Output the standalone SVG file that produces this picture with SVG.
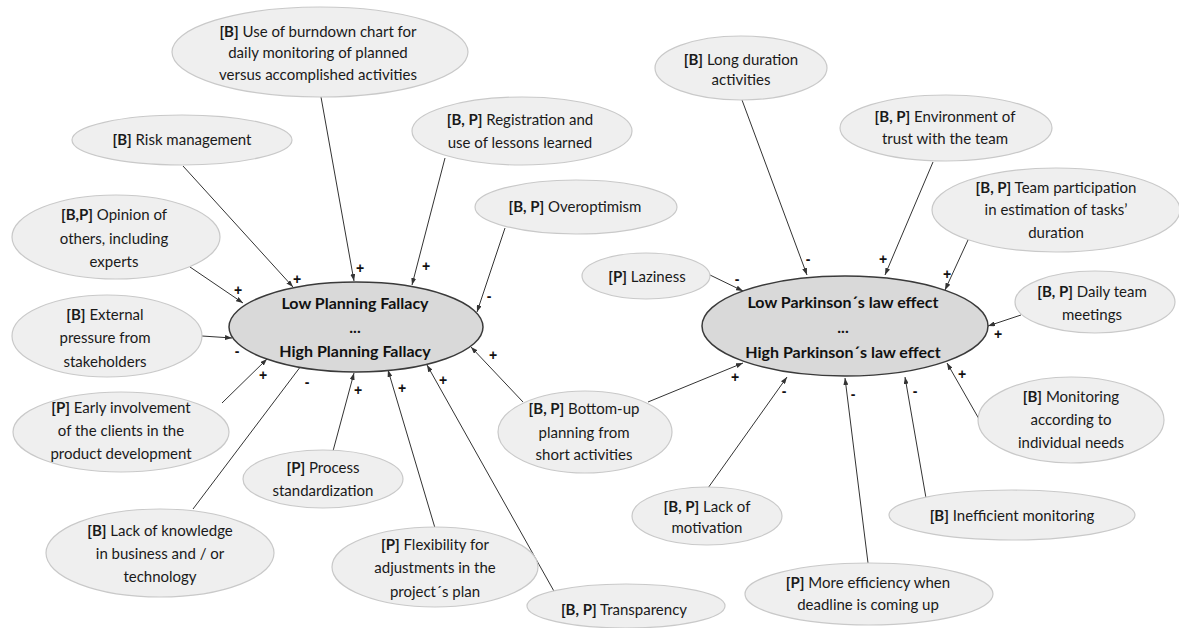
<svg xmlns="http://www.w3.org/2000/svg" width="1179" height="628" viewBox="0 0 1179 628">
  <defs>
    <marker id="arrow" viewBox="0 0 7 5" refX="7" refY="2.5" markerWidth="7" markerHeight="5" markerUnits="userSpaceOnUse" orient="auto">
      <path d="M0,0 L7,2.5 L0,5 z" fill="#333"/>
    </marker>
  </defs>
  <style>
    .sat { fill: #efefef; stroke: #c9c9c9; stroke-width: 1.2; }
    .core { fill: #d9d9d9; stroke: #3a3a3a; stroke-width: 1.5; }
    .t { font-family: Lato, "Liberation Sans", sans-serif; font-size: 15px; fill: #1a1a1a; text-anchor: middle; }
    .t tspan.b { font-weight: bold; }
    .ct { font-family: Lato, "Liberation Sans", sans-serif; font-size: 16px; font-weight: bold; fill: #111; text-anchor: middle; }
    .link { stroke: #333; stroke-width: 1; fill: none; marker-end: url(#arrow); }
    .sign { font-family: "Liberation Sans", sans-serif; font-size: 14px; font-weight: bold; fill: #111; text-anchor: middle; }
  </style>
  <rect width="1179" height="628" fill="#ffffff"/>

  <!-- influence links -->
  <g id="connectors">
    <line class="link" x1="321" y1="97" x2="354" y2="281"/>
    <line class="link" x1="183" y1="166" x2="293" y2="287"/>
    <line class="link" x1="190" y1="267" x2="243" y2="303"/>
    <line class="link" x1="202" y1="336" x2="232" y2="338"/>
    <line class="link" x1="222" y1="403" x2="267" y2="359"/>
    <line class="link" x1="193" y1="509" x2="307" y2="358"/>
    <line class="link" x1="333" y1="451" x2="354" y2="373"/>
    <line class="link" x1="435" y1="528" x2="388" y2="370"/>
    <line class="link" x1="555" y1="593" x2="427" y2="365"/>
    <line class="link" x1="523" y1="402" x2="471" y2="347"/>
    <line class="link" x1="505" y1="228" x2="477" y2="312"/>
    <line class="link" x1="445" y1="158" x2="412" y2="285"/>
    <line class="link" x1="710" y1="275" x2="743" y2="291"/>
    <line class="link" x1="648" y1="402" x2="743" y2="363"/>
    <line class="link" x1="742" y1="100" x2="807" y2="275"/>
    <line class="link" x1="933" y1="162" x2="885" y2="275"/>
    <line class="link" x1="968" y1="240" x2="945" y2="290"/>
    <line class="link" x1="1021" y1="315" x2="988" y2="326"/>
    <line class="link" x1="979" y1="419" x2="947" y2="363"/>
    <line class="link" x1="926" y1="498" x2="905" y2="377"/>
    <line class="link" x1="868" y1="563" x2="845" y2="378"/>
    <line class="link" x1="708" y1="488" x2="787" y2="377"/>

    <!-- polarity signs -->
    <text class="sign" x="360" y="273">+</text>
    <text class="sign" x="297" y="284">+</text>
    <text class="sign" x="238" y="295">+</text>
    <text class="sign" x="237" y="356">-</text>
    <text class="sign" x="263" y="380">+</text>
    <text class="sign" x="307" y="387">-</text>
    <text class="sign" x="358" y="395">+</text>
    <text class="sign" x="402" y="393">+</text>
    <text class="sign" x="443" y="385">+</text>
    <text class="sign" x="493" y="360">+</text>
    <text class="sign" x="489" y="301">-</text>
    <text class="sign" x="426" y="271">+</text>
    <text class="sign" x="737" y="284">-</text>
    <text class="sign" x="735" y="382">+</text>
    <text class="sign" x="808" y="264">-</text>
    <text class="sign" x="883" y="264">+</text>
    <text class="sign" x="947" y="279">+</text>
    <text class="sign" x="998" y="339">+</text>
    <text class="sign" x="962" y="379">+</text>
    <text class="sign" x="915" y="396">-</text>
    <text class="sign" x="853" y="399">-</text>
    <text class="sign" x="784" y="396">-</text>
  </g>

  <!-- central constructs -->
  <g id="planning-fallacy">
    <ellipse class="core" cx="356" cy="327" rx="127" ry="45"/>
    <text class="ct" x="355" y="309">Low Planning Fallacy</text>
    <text class="ct" x="355" y="333">...</text>
    <text class="ct" x="355" y="357">High Planning Fallacy</text>
  </g>
  <g id="parkinson-law">
    <ellipse class="core" cx="845" cy="326" rx="143" ry="50"/>
    <text class="ct" x="843" y="308">Low Parkinson´s law effect</text>
    <text class="ct" x="843" y="333">...</text>
    <text class="ct" x="843" y="358">High Parkinson´s law effect</text>
  </g>

  <!-- factors: planning fallacy -->
  <g id="burndown-chart">
    <ellipse class="sat" cx="320" cy="52" rx="148" ry="45"/>
    <text class="t" x="318" y="37"><tspan class="b">[B]</tspan> Use of burndown chart for</text>
    <text class="t" x="318" y="58">daily monitoring of planned</text>
    <text class="t" x="318" y="80">versus accomplished activities</text>
  </g>
  <g id="risk-management">
    <ellipse class="sat" cx="182" cy="140" rx="110" ry="25"/>
    <text class="t" x="182" y="145"><tspan class="b">[B]</tspan> Risk management</text>
  </g>
  <g id="lessons-learned">
    <ellipse class="sat" cx="522" cy="131" rx="110" ry="34"/>
    <text class="t" x="520" y="125"><tspan class="b">[B, P]</tspan> Registration and</text>
    <text class="t" x="520" y="148">use of lessons learned</text>
  </g>
  <g id="overoptimism">
    <ellipse class="sat" cx="576" cy="207" rx="101" ry="27"/>
    <text class="t" x="575" y="212"><tspan class="b">[B, P]</tspan> Overoptimism</text>
  </g>
  <g id="opinion-of-others">
    <ellipse class="sat" cx="116" cy="237" rx="104" ry="42"/>
    <text class="t" x="114" y="220"><tspan class="b">[B,P]</tspan> Opinion of</text>
    <text class="t" x="114" y="244">others, including</text>
    <text class="t" x="114" y="267">experts</text>
  </g>
  <g id="external-pressure">
    <ellipse class="sat" cx="107" cy="336" rx="95" ry="41"/>
    <text class="t" x="105" y="320"><tspan class="b">[B]</tspan> External</text>
    <text class="t" x="105" y="343">pressure from</text>
    <text class="t" x="105" y="367">stakeholders</text>
  </g>
  <g id="client-involvement">
    <ellipse class="sat" cx="121" cy="432" rx="108" ry="40"/>
    <text class="t" x="121" y="413"><tspan class="b">[P]</tspan> Early involvement</text>
    <text class="t" x="121" y="436">of the clients in the</text>
    <text class="t" x="121" y="459">product development</text>
  </g>
  <g id="process-standardization">
    <ellipse class="sat" cx="323" cy="479" rx="80" ry="29"/>
    <text class="t" x="323" y="473"><tspan class="b">[P]</tspan> Process</text>
    <text class="t" x="323" y="496">standardization</text>
  </g>
  <g id="lack-of-knowledge">
    <ellipse class="sat" cx="160" cy="553" rx="114" ry="44"/>
    <text class="t" x="160" y="536"><tspan class="b">[B]</tspan> Lack of knowledge</text>
    <text class="t" x="160" y="559">in business and / or</text>
    <text class="t" x="160" y="582">technology</text>
  </g>
  <g id="plan-flexibility">
    <ellipse class="sat" cx="435" cy="567" rx="103" ry="40"/>
    <text class="t" x="435" y="550"><tspan class="b">[P]</tspan> Flexibility for</text>
    <text class="t" x="435" y="573">adjustments in the</text>
    <text class="t" x="435" y="597">project´s plan</text>
  </g>
  <g id="transparency">
    <ellipse class="sat" cx="626" cy="606" rx="99" ry="22"/>
    <text class="t" x="624" y="615"><tspan class="b">[B, P]</tspan> Transparency</text>
  </g>
  <g id="bottom-up-planning">
    <ellipse class="sat" cx="585" cy="432" rx="87" ry="41"/>
    <text class="t" x="584" y="414"><tspan class="b">[B, P]</tspan> Bottom-up</text>
    <text class="t" x="584" y="438">planning from</text>
    <text class="t" x="584" y="460">short activities</text>
  </g>

  <!-- factors: Parkinson's law -->
  <g id="long-duration">
    <ellipse class="sat" cx="741" cy="68" rx="86" ry="32"/>
    <text class="t" x="741" y="65"><tspan class="b">[B]</tspan> Long duration</text>
    <text class="t" x="741" y="85">activities</text>
  </g>
  <g id="trust-environment">
    <ellipse class="sat" cx="946" cy="128" rx="106" ry="33"/>
    <text class="t" x="945" y="122"><tspan class="b">[B, P]</tspan> Environment of</text>
    <text class="t" x="945" y="144">trust with the team</text>
  </g>
  <g id="team-estimation">
    <ellipse class="sat" cx="1056" cy="210" rx="124" ry="42"/>
    <text class="t" x="1056" y="193"><tspan class="b">[B, P]</tspan> Team participation</text>
    <text class="t" x="1056" y="215">in estimation of tasks’</text>
    <text class="t" x="1056" y="238">duration</text>
  </g>
  <g id="daily-meetings">
    <ellipse class="sat" cx="1095" cy="302" rx="80" ry="31"/>
    <text class="t" x="1092" y="297"><tspan class="b">[B, P]</tspan> Daily team</text>
    <text class="t" x="1092" y="320">meetings</text>
  </g>
  <g id="individual-monitoring">
    <ellipse class="sat" cx="1071" cy="420" rx="93" ry="43"/>
    <text class="t" x="1071" y="402"><tspan class="b">[B]</tspan> Monitoring</text>
    <text class="t" x="1071" y="425">according to</text>
    <text class="t" x="1071" y="448">individual needs</text>
  </g>
  <g id="inefficient-monitoring">
    <ellipse class="sat" cx="1012" cy="515" rx="123" ry="25"/>
    <text class="t" x="1012" y="521"><tspan class="b">[B]</tspan> Inefficient monitoring</text>
  </g>
  <g id="deadline-efficiency">
    <ellipse class="sat" cx="869" cy="594" rx="124" ry="31"/>
    <text class="t" x="868" y="588"><tspan class="b">[P]</tspan> More efficiency when</text>
    <text class="t" x="868" y="610">deadline is coming up</text>
  </g>
  <g id="lack-of-motivation">
    <ellipse class="sat" cx="707" cy="516" rx="75" ry="29"/>
    <text class="t" x="707" y="512"><tspan class="b">[B, P]</tspan> Lack of</text>
    <text class="t" x="707" y="533">motivation</text>
  </g>
  <g id="laziness">
    <ellipse class="sat" cx="646" cy="276" rx="64" ry="23"/>
    <text class="t" x="647" y="282"><tspan class="b">[P]</tspan> Laziness</text>
  </g>
</svg>
